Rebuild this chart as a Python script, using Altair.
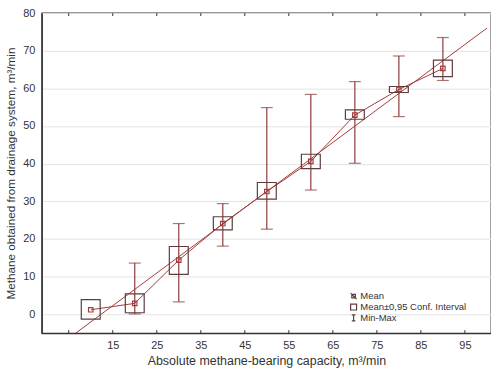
import altair as alt
import pandas as pd

capacity = [10, 20, 30, 40, 50, 60, 70, 80, 90]
mean_vals = [1.2, 2.9, 14.4, 24.1, 32.6, 40.6, 52.9, 59.7, 65.3]
ci_low = [-1.3, 0.4, 10.6, 22.4, 30.6, 38.7, 51.8, 58.9, 63.1]
ci_high = [3.9, 5.4, 18.0, 25.9, 35.0, 42.5, 54.3, 60.5, 67.5]
min_vals = [None, 0.1, 3.3, 18.1, 22.6, 33.0, 40.1, 52.5, 62.1]
max_vals = [None, 13.6, 24.1, 29.4, 54.9, 58.4, 61.8, 68.6, 73.5]
x_ticks = [5, 15, 25, 35, 45, 55, 65, 75, 85, 95]
x_labels = [15, 25, 35, 45, 55, 65, 75, 85, 95]
y_ticks = [0, 10, 20, 30, 40, 50, 60, 70, 80]
legend_items = ["Mean", "Mean±0,95 Conf. Interval", "Min-Max"]

df = pd.DataFrame({"x": capacity, "mean": mean_vals, "lo": ci_low, "hi": ci_high,
                   "mn": min_vals, "mx": max_vals})
wdf = df.dropna()
tdf = pd.DataFrame({"t": x_ticks})

RED = "#a33a3a"
WHISK = "#8c3b3b"
BOX = "#5e3d3d"
FONT = "Liberation Sans"

xs = alt.Scale(domain=[0, 99.8], nice=False, zero=False)
ys = alt.Scale(domain=[-5, 80], nice=False, zero=False)

xenc = alt.X("x:Q", scale=xs, axis=alt.Axis(
    values=x_labels, ticks=False, grid=False, title="Absolute methane-bearing capacity, m³/min",
    labelPadding=6, titlePadding=5))

base = alt.Chart(df)

reg = base.transform_regression("x", "mean", extent=[0, 100]).mark_line(
    color=RED, strokeWidth=1, clip=True).encode(
    x=xenc,
    y=alt.Y("mean:Q", scale=ys, axis=alt.Axis(
        values=y_ticks, ticks=False, grid=True, title="Methane obtained from drainage system, m³/min",
        labelPadding=7, titlePadding=6, titleFontSize=11.8)))

mline = base.mark_line(color=RED, strokeWidth=1).encode(
    x=alt.X("x:Q", scale=xs), y=alt.Y("mean:Q", scale=ys))

whisk = alt.Chart(wdf).mark_rule(color=WHISK, strokeWidth=1.2).encode(
    x=alt.X("x:Q", scale=xs), y=alt.Y("mn:Q", scale=ys), y2="mx:Q")
cap_lo = alt.Chart(wdf).mark_tick(orient="horizontal", size=12, thickness=1.2, color=WHISK).encode(
    x=alt.X("x:Q", scale=xs), y=alt.Y("mn:Q", scale=ys))
cap_hi = alt.Chart(wdf).mark_tick(orient="horizontal", size=12, thickness=1.2, color=WHISK).encode(
    x=alt.X("x:Q", scale=xs), y=alt.Y("mx:Q", scale=ys))

boxes = base.mark_bar(size=19, fill="transparent", stroke=BOX, strokeWidth=1.2).encode(
    x=alt.X("x:Q", scale=xs), y=alt.Y("lo:Q", scale=ys), y2="hi:Q")

pts = base.mark_point(filled=False, shape="square", size=20, color=RED,
                      strokeWidth=1.2, opacity=1).encode(
    x=alt.X("x:Q", scale=xs), y=alt.Y("mean:Q", scale=ys))

legend_layer = base.transform_calculate(lab="'Mean'").mark_point(
    filled=False, size=20, color=RED, strokeWidth=1.2, opacity=0).encode(
    x=alt.X("x:Q", scale=xs), y=alt.Y("mean:Q", scale=ys),
    shape=alt.Shape("lab:N", scale=alt.Scale(
        domain=legend_items,
        range=["M-0.6,-0.6H0.6V0.6H-0.6ZM-1,-1L1,1", "square", "M-0.6,-1H0.6M0,-1V1M-0.6,1H0.6"]),
        legend=alt.Legend(title=None, orient="none", legendX=309, legendY=280,
                          labelFontSize=9.5, labelFont=FONT, labelColor="#333",
                          symbolSize=36, symbolStrokeColor=BOX, symbolFillColor="transparent",
                          symbolOpacity=1, symbolStrokeWidth=1.2, rowPadding=-2, labelOffset=2)))

tick_bot = alt.Chart(tdf).mark_rule(color="#333", strokeWidth=1).encode(
    x=alt.X("t:Q", scale=xs), y=alt.Y(datum=-5, scale=ys), y2=alt.datum(-4.2))
tick_top = alt.Chart(tdf).mark_rule(color="#333", strokeWidth=1).encode(
    x=alt.X("t:Q", scale=xs), y=alt.Y(datum=80, scale=ys), y2=alt.datum(79.2))

chart = alt.layer(reg, mline, whisk, cap_lo, cap_hi, boxes, pts, legend_layer,
                  tick_bot, tick_top).properties(
    width=452, height=322, autosize=alt.AutoSizeParams(type="none"),
    padding={"left": 42, "top": 12, "right": 0, "bottom": 40}
).configure_view(stroke="#333", strokeWidth=1.3).configure_axis(
    domainColor="#333", domainWidth=1.3, gridColor="#e3e3e3", gridWidth=1,
    labelFont=FONT, labelFontSize=11, labelColor="#333",
    titleFont=FONT, titleFontSize=12.5, titleFontWeight="normal", titleColor="#333")

chart.save("out.html", embed_options={"renderer": "svg", "actions": False})
